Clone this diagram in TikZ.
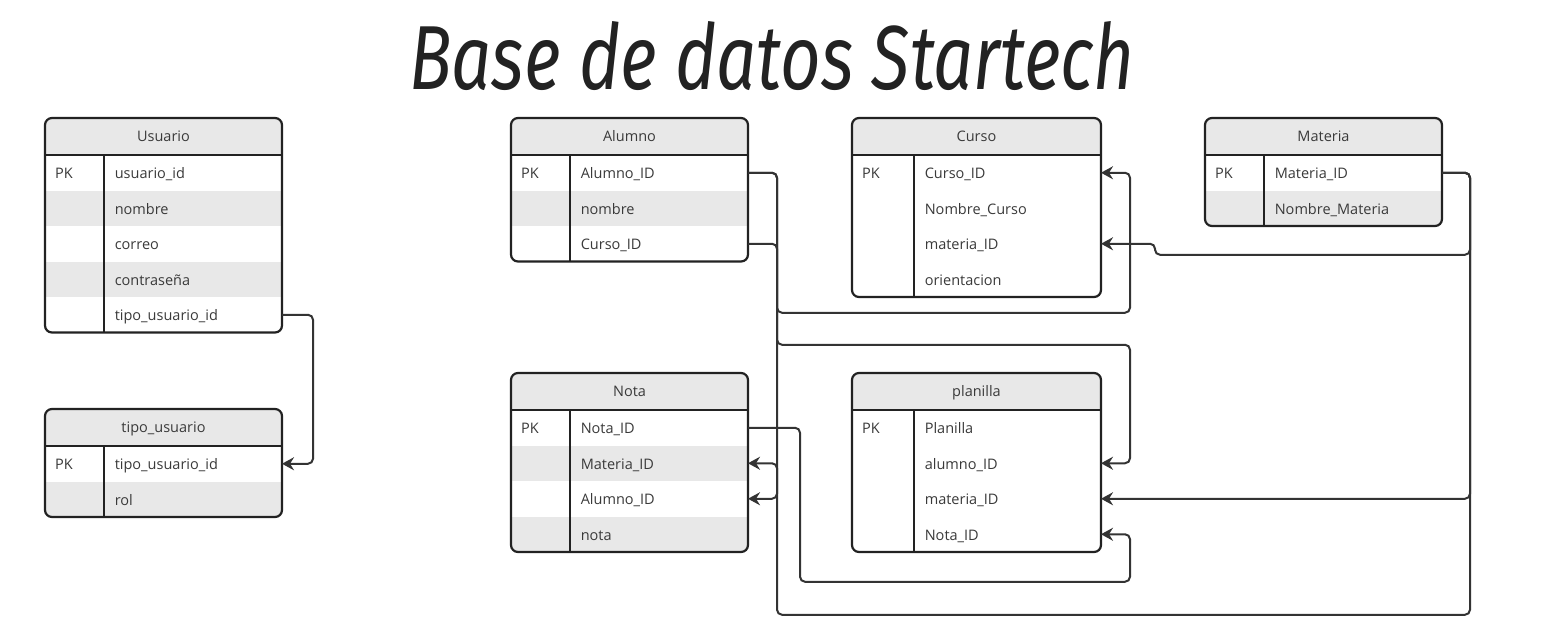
\documentclass[tikz,border=0pt]{standalone}
\usepackage{fontspec}
\setsansfont{Open Sans}
\newfontfamily\titlefont{Fira Sans}
\usetikzlibrary{arrows.meta, calc}

\definecolor{ergray}{HTML}{E8E8E8}
\definecolor{erdark}{HTML}{222222}
\definecolor{ertext}{HTML}{3A3A3A}
\definecolor{erwire}{HTML}{333333}

% one entity table: name, left, top, width, key column, title, rows (key/field/shade)
\newcommand{\erdtable}[7]{%
  \foreach \r [count=\n] in {#7} {\xdef\errows{\n}}
  \pgfmathsetmacro{\erbot}{#3+37+35.5*\errows}
  \pgfmathsetmacro{\erkw}{#5-20}
  \pgfmathsetmacro{\erfw}{#4-#5-22}
  \begin{scope}
    \clip[rounded corners=7] (#2,#3) rectangle (#2+#4,\erbot);
    \fill[ergray] (#2,#3) rectangle ++(#4,37);
    \foreach \k/\f/\s [count=\i] in {#7} {
      \fill[\s] (#2,#3+37+35.5*\i-35.5) rectangle ++(#4,35.5);
    }
  \end{scope}
  \draw[erline] (#2,#3+37) -- ++(#4,0);
  \draw[erline] (#2+#5,#3+37) -- (#2+#5,\erbot);
  \draw[erline, rounded corners=7] (#2,#3) rectangle (#2+#4,\erbot);
  \node[erhead, minimum width=#4] (#1) at (#2+#4/2,#3+18.5) {#6};
  \foreach \k/\f/\s [count=\i] in {#7} {
    \pgfmathsetmacro{\ry}{#3+37+(\i-0.5)*35.5}
    \node[erkey, text width=\erkw pt, anchor=west] (#1-k\i) at (#2,\ry) {\k};
    \node[erfield, text width=\erfw pt, anchor=east] (#1-\i) at (#2+#4,\ry) {\f};
  }
}

\begin{document}
\begin{tikzpicture}[x=1pt, y=-1pt,
    erline/.style={draw=erdark, line width=2.2pt},
    erhead/.style={minimum height=37, inner sep=0pt, text height=12pt, text depth=2pt, font=\sffamily\fontsize{14.5}{17}\selectfont, text=ertext},
    erkey/.style={minimum height=35.5, inner xsep=10pt, inner ysep=0pt, text height=12.5pt, text depth=1pt, align=left, font=\sffamily\fontsize{14.5}{17}\selectfont, text=ertext},
    erfield/.style={erkey, inner xsep=11pt},
    fk/.style={draw=erwire, line width=2pt, rounded corners=5, -{Stealth[length=12pt, width=13pt, inset=4pt]}},
  ]
	\useasboundingbox (0,0) rectangle (1566,638);
	\fill[white] (0,0) rectangle (1566,638);
	\node[inner sep=0pt, text=erdark] (title) at (772,56)
		{\resizebox{725pt}{68pt}{\titlefont\itshape Base de datos Startech}};

	% tables
	\erdtable{usuario}{45}{118}{237}{59}{Usuario}{PK/usuario\_id/white, /nombre/ergray, /correo/white, /contraseña/ergray, /tipo\_usuario\_id/white}
	\erdtable{tipousuario}{45}{409}{237}{59}{tipo\_usuario}{PK/tipo\_usuario\_id/white, /rol/ergray}
	\erdtable{alumno}{511}{118}{237}{59}{Alumno}{PK/Alumno\_ID/white, /nombre/ergray, /Curso\_ID/white}
	\erdtable{curso}{852}{118}{249}{62}{Curso}{PK/Curso\_ID/white, /Nombre\_Curso/white, /materia\_ID/white, /orientacion/white}
	\erdtable{materia}{1205}{118}{237}{59}{Materia}{PK/Materia\_ID/white, /Nombre\_Materia/ergray}
	\erdtable{nota}{511}{373}{237}{59}{Nota}{PK/Nota\_ID/white, /Materia\_ID/ergray, /Alumno\_ID/white, /nota/ergray}
	\erdtable{planilla}{852}{373}{249}{62}{planilla}{PK/Planilla/white, /alumno\_ID/white, /materia\_ID/white, /Nota\_ID/white}

	% foreign keys
	\draw[fk] (usuario-5.east) -- ++(31,0) |- (tipousuario-1.east);
	\draw[fk] (alumno-3.east) -| ++(29,69) -| ($(curso-1.east)+(29,0)$) -- (curso-1.east);
	\draw[fk] (alumno-1.east) -| ++(29,172) -| ($(planilla-2.east)+(29,0)$) -- (planilla-2.east);
	\draw[fk] (alumno-1.east) -- ++(29,0) |- (nota-3.east);
	\draw[fk] (materia-1.east) -| ++(28,82) -| ($(curso-3.east)+(54,0)$) -- (curso-3.east);
	\draw[fk] (materia-1.east) -- ++(28,0) |- (planilla-3.east);
	\draw[fk] (materia-1.east) -| ++(28,442) -| ($(nota-2.east)+(29,0)$) -- (nota-2.east);
	\draw[fk] (nota-1.east) -| ++(52,154) -| ($(planilla-4.east)+(29,0)$) -- (planilla-4.east);
\end{tikzpicture}
\end{document}
